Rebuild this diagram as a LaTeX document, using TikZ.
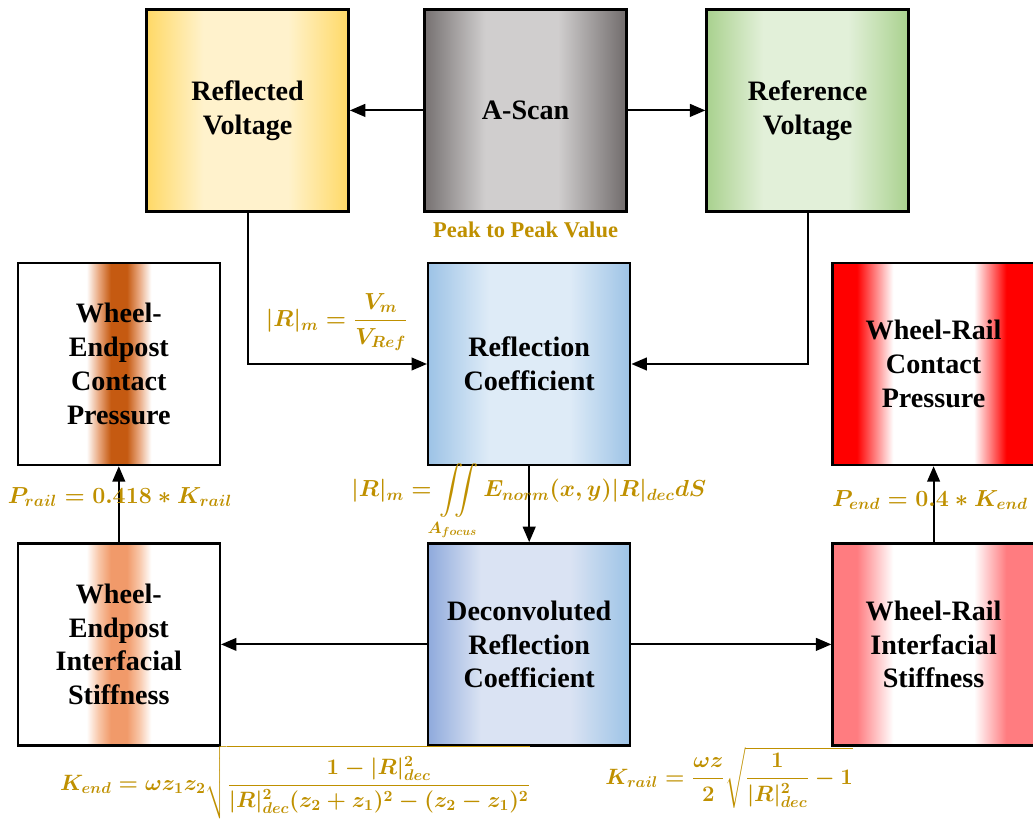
\RequirePackage{fix-cm}
\documentclass[tikz,border=0pt]{standalone}
\usepackage{amsmath}
\usepackage{fontspec}
\setmainfont{Liberation Serif}
\usetikzlibrary{positioning,arrows.meta}

\definecolor{eqgold}{HTML}{BF9000}
\definecolor{scandark}{HTML}{767171}
\definecolor{scanlight}{HTML}{D0CECE}
\definecolor{voltgold}{HTML}{FFD966}
\definecolor{voltlight}{HTML}{FFF2CC}
\definecolor{refgreen}{HTML}{A9D18E}
\definecolor{reflight}{HTML}{E2F0D9}
\definecolor{coefblue}{HTML}{9DC3E6}
\definecolor{coeflight}{HTML}{DEEBF7}
\definecolor{deconblue}{HTML}{8FAADC}
\definecolor{deconlight}{HTML}{DAE3F3}
\definecolor{postbrown}{HTML}{C55A11}
\definecolor{postsoft}{HTML}{E9A880}
\definecolor{stiffcore}{HTML}{F19A6A}
\definecolor{stiffsoft}{HTML}{F8C6A8}
\definecolor{railred}{HTML}{FF0000}
\definecolor{railpink}{HTML}{FF7C80}

\pgfdeclarehorizontalshading{scanshade}{100bp}{color(0bp)=(scandark); color(25bp)=(scandark); color(40bp)=(scanlight); color(58bp)=(scanlight); color(74bp)=(scandark); color(100bp)=(scandark)}
\pgfdeclarehorizontalshading{voltshade}{100bp}{color(0bp)=(voltgold); color(25bp)=(voltgold); color(39bp)=(voltlight); color(60bp)=(voltlight); color(75bp)=(voltgold); color(100bp)=(voltgold)}
\pgfdeclarehorizontalshading{refshade}{100bp}{color(0bp)=(refgreen); color(25bp)=(refgreen); color(39bp)=(reflight); color(60bp)=(reflight); color(75bp)=(refgreen); color(100bp)=(refgreen)}
\pgfdeclarehorizontalshading{coefshade}{100bp}{color(0bp)=(coefblue); color(25bp)=(coefblue); color(40bp)=(coeflight); color(60bp)=(coeflight); color(75bp)=(coefblue); color(100bp)=(coefblue)}
\pgfdeclarehorizontalshading{deconshade}{100bp}{color(0bp)=(deconblue); color(25bp)=(deconblue); color(38bp)=(deconlight); color(60bp)=(deconlight); color(75bp)=(coefblue); color(100bp)=(coefblue)}
\pgfdeclarehorizontalshading{postshade}{100bp}{color(0bp)=(white); color(42bp)=(white); color(45bp)=(postsoft); color(48bp)=(postbrown); color(52bp)=(postbrown); color(55bp)=(postsoft); color(58bp)=(white); color(100bp)=(white)}
\pgfdeclarehorizontalshading{stiffshade}{100bp}{color(0bp)=(white); color(42bp)=(white); color(45bp)=(stiffsoft); color(48bp)=(stiffcore); color(52bp)=(stiffcore); color(55bp)=(stiffsoft); color(58bp)=(white); color(100bp)=(white)}
\pgfdeclarehorizontalshading{railshade}{100bp}{color(0bp)=(railred); color(31bp)=(railred); color(40bp)=(white); color(60bp)=(white); color(68bp)=(railred); color(100bp)=(railred)}
\pgfdeclarehorizontalshading{railstiffshade}{100bp}{color(0bp)=(railpink); color(31bp)=(railpink); color(40bp)=(white); color(60bp)=(white); color(68bp)=(railpink); color(100bp)=(railpink)}

\begin{document}
\begin{tikzpicture}[node distance = 1.9cm, auto]
        \tikzstyle{blk} = [draw, line width=1.7pt, minimum width=5.05cm, minimum height=5.05cm, inner sep=0pt, text width=4.9cm, align=center, font=\fontsize{20}{24}\selectfont\bfseries]
        \tikzstyle{arr} = [line width=1.5pt, -{Triangle[length=11pt,width=9pt]}]
        \tikzstyle{eq} = [text=eqgold, inner sep=0pt, font=\fontsize{16.5}{20}\selectfont\boldmath]
    \useasboundingbox (0,0) rectangle (25.825,-20.625);

    \node[blk, shading=scanshade] (ascan) at (13.14,-2.76) {A-Scan};
    \node[blk, shading=voltshade, left=1.84cm of ascan] (reflv) {Reflected\\Voltage};
    \node[blk, shading=refshade, right=1.94cm of ascan] (refv) {Reference\\Voltage};
    \node[blk, shading=coefshade, below=1.23cm of ascan, xshift=0.09cm] (coef) {Reflection\\Coefficient};
    \node[blk, shading=deconshade, below=of coef] (decon) {Deconvoluted\\Reflection\\Coefficient};
    \node[blk, shading=postshade, left=5.15cm of coef] (postp) {Wheel-\\Endpost\\Contact\\Pressure};
    \node[blk, shading=railshade, right=5cm of coef] (railp) {Wheel-Rail\\Contact\\Pressure};
    \node[blk, shading=stiffshade, below=of postp] (posts) {Wheel-\\Endpost\\Interfacial\\Stiffness};
    \node[blk, shading=railstiffshade, below=of railp] (rails) {Wheel-Rail\\Interfacial\\Stiffness};

    \draw[arr] (ascan.west) -- (reflv.east);
    \draw[arr] (ascan.east) -- (refv.west);
    \draw[arr] (reflv.south) |- (coef.west);
    \draw[arr] (refv.south) |- (coef.east);
    \draw[arr] (coef.south) -- (decon.north);
    \draw[arr] (decon.west) -- (posts.east);
    \draw[arr] (decon.east) -- (rails.west);
    \draw[arr] (posts.north) -- (postp.south);
    \draw[arr] (rails.north) -- (railp.south);

    \node[eq, font=\fontsize{16}{19}\selectfont\bfseries, below=0.22cm of ascan] (peak) {Peak to Peak Value};
    \node[eq] (ratio) at (8.42,-8.05) {$|R|_m=\dfrac{V_m}{V_{Ref}}$};
    \node[eq] (prail) at (3.0,-12.43) {$P_{rail}=0.418*K_{rail}$};
    \node[eq] (focus) at (13.22,-12.55) {$\displaystyle |R|_m=\iint\limits_{A_{focus}}E_{norm}(x,y)|R|_{dec}dS$};
    \node[eq] (pend) at (23.25,-12.5) {$P_{end}=0.4*K_{end}$};
    \node[eq, font=\fontsize{15.8}{19}\selectfont\boldmath] (kend) at (7.38,-19.56) {$\displaystyle K_{end}=\omega z_1z_2\sqrt{\frac{1-|R|^2_{dec}}{|R|^2_{dec}(z_2+z_1)^2-(z_2-z_1)^2}}$};
    \node[eq, font=\fontsize{15.8}{19}\selectfont\boldmath] (krail) at (18.23,-19.45) {$\displaystyle K_{rail}=\frac{\omega z}{2}\sqrt{\frac{1}{|R|^2_{dec}}-1}$};
  \end{tikzpicture}
\end{document}
